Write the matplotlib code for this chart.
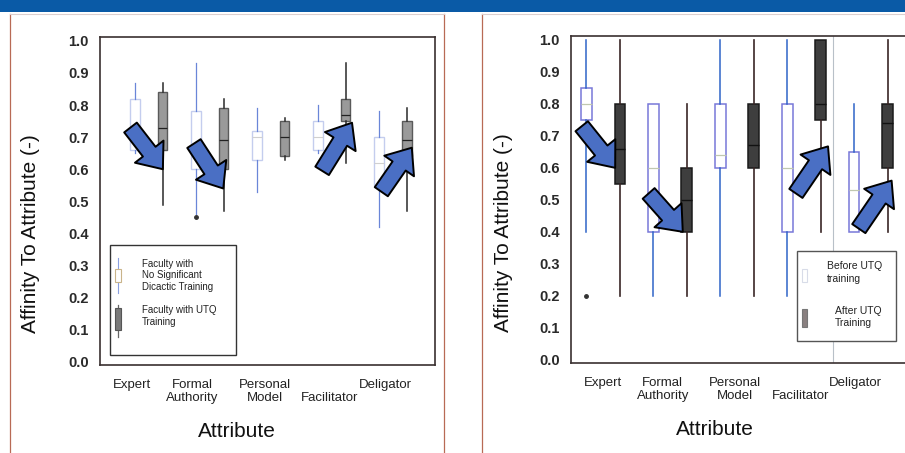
import matplotlib.pyplot as plt
from matplotlib.patches import Rectangle, FancyArrowPatch
from matplotlib.lines import Line2D
import numpy as np

plt.rcParams['font.family'] = ['Liberation Sans', 'DejaVu Sans']

categories = ["Expert", "Formal\nAuthority", "Personal\nModel", "\nFacilitator", "Deligator"]
yticks = [0.0, 0.1, 0.2, 0.3, 0.4, 0.5, 0.6, 0.7, 0.8, 0.9, 1.0]

# left panel: faculty without / with UTQ training (lo, q1, med, q3, hi)
left_plain_lo = [0.65, 0.46, 0.53, 0.65, 0.42]
left_plain_q1 = [0.66, 0.60, 0.63, 0.66, 0.55]
left_plain_med = [0.70, 0.68, 0.70, 0.70, 0.62]
left_plain_q3 = [0.82, 0.78, 0.72, 0.75, 0.70]
left_plain_hi = [0.87, 0.93, 0.79, 0.80, 0.78]
left_plain_fliers = [[], [0.45], [], [], []]

left_utq_lo = [0.49, 0.47, 0.63, 0.62, 0.47]
left_utq_q1 = [0.66, 0.60, 0.64, 0.75, 0.64]
left_utq_med = [0.73, 0.69, 0.70, 0.77, 0.69]
left_utq_q3 = [0.84, 0.79, 0.75, 0.82, 0.75]
left_utq_hi = [0.87, 0.82, 0.76, 0.93, 0.79]

# right panel: before / after UTQ training
right_before_lo = [0.40, 0.20, 0.20, 0.20, 0.40]
right_before_q1 = [0.75, 0.40, 0.60, 0.40, 0.40]
right_before_med = [0.80, 0.60, 0.64, 0.60, 0.53]
right_before_q3 = [0.85, 0.80, 0.80, 0.80, 0.65]
right_before_hi = [1.00, 0.80, 1.00, 1.00, 0.80]
right_before_fliers = [[0.20], [], [], [], []]

right_after_lo = [0.20, 0.20, 0.20, 0.40, 0.40]
right_after_q1 = [0.55, 0.40, 0.60, 0.75, 0.60]
right_after_med = [0.66, 0.50, 0.67, 0.80, 0.74]
right_after_q3 = [0.80, 0.60, 0.80, 1.00, 0.80]
right_after_hi = [1.00, 0.80, 1.00, 1.00, 1.00]

# arrows (tail x, tail y, tip x, tip y) in data units
left_arrows = [(0.70, 0.73, 1.23, 0.60), (1.74, 0.68, 2.22, 0.54),
               (3.84, 0.595, 4.33, 0.745), (4.81, 0.53, 5.31, 0.667)]
right_arrows = [(0.68, 0.73, 1.18, 0.60), (1.68, 0.52, 2.19, 0.40),
                (3.88, 0.52, 4.36, 0.667), (4.82, 0.41, 5.31, 0.56)]

ARROW_BLUE = '#4a6fc4'


def make_stats(lo, q1, med, q3, hi, fliers=None):
    out = []
    for i in range(len(lo)):
        out.append(dict(whislo=lo[i], q1=q1[i], med=med[i], q3=q3[i], whishi=hi[i],
                        fliers=fliers[i] if fliers else []))
    return out


def draw_arrows(ax, arrows):
    for x0, y0, x1, y1 in arrows:
        a = FancyArrowPatch((x0, y0), (x1, y1),
                            arrowstyle='simple,head_length=1.6,head_width=2.6,tail_width=1.15',
                            mutation_scale=10, facecolor=ARROW_BLUE, edgecolor='black',
                            linewidth=1.4, zorder=5, shrinkA=0, shrinkB=0)
        ax.add_patch(a)


def style_axes(ax, xlim, label_pos, ylab_x, xlab_x):
    ax.set_xlim(*xlim)
    ax.set_ylim(-0.01, 1.012)
    ax.set_yticks(yticks)
    ax.set_yticklabels([f"{v:.1f}" for v in yticks], fontsize=10.5, fontweight='bold', color='#2a2a2a')
    ax.set_xticks(label_pos)
    ax.set_xticklabels(categories, fontsize=9.5, color='#222', linespacing=1.15)
    for t in ax.get_xticklabels():
        t.set_verticalalignment('top')
    ax.tick_params(axis='both', length=0)
    ax.tick_params(axis='x', pad=10)
    ax.tick_params(axis='y', pad=8)
    ax.set_ylabel("Affinity To Attribute (-)", fontsize=15, color='#111')
    ax.yaxis.set_label_coords(ylab_x, 0.40)
    ax.set_xlabel("Attribute", fontsize=15, color='#111')
    ax.xaxis.set_label_coords(xlab_x, -0.175)
    for s in ax.spines.values():
        s.set_color('#3a3030')
        s.set_linewidth(1.2)


fig = plt.figure(figsize=(9.05, 4.53), dpi=100)

# header strip and panel frames
fig.add_artist(Rectangle((0, 0.9735), 1, 0.0265, transform=fig.transFigure,
                         facecolor='#0a5aa6', edgecolor='none'))
frame_c = '#b86a55'
fig.add_artist(Line2D([10 / 905, 10 / 905], [0, 439 / 453], transform=fig.transFigure, color=frame_c, lw=0.9))
fig.add_artist(Line2D([444 / 905, 444 / 905], [0, 439 / 453], transform=fig.transFigure, color=frame_c, lw=0.9))
fig.add_artist(Line2D([10 / 905, 444 / 905], [439 / 453, 439 / 453], transform=fig.transFigure, color='#dccfcf', lw=0.8))
fig.add_artist(Line2D([482 / 905, 482 / 905], [0, 439 / 453], transform=fig.transFigure, color=frame_c, lw=0.9))
fig.add_artist(Line2D([482 / 905, 1], [439 / 453, 439 / 453], transform=fig.transFigure, color='#dccfcf', lw=0.8))

# ---- left panel
axl = fig.add_axes([100 / 905, 88 / 453, 335 / 905, 328 / 453])
pos = np.arange(1, 6)
axl.bxp(make_stats(left_plain_lo, left_plain_q1, left_plain_med, left_plain_q3, left_plain_hi,
                   left_plain_fliers),
        positions=pos - 0.23, widths=0.17, patch_artist=True, showcaps=False,
        boxprops=dict(facecolor='white', edgecolor='#c4cdee', linewidth=1.0),
        whiskerprops=dict(color='#6a86d8', linewidth=0.9),
        medianprops=dict(color='#d0d0d0', linewidth=0.8),
        flierprops=dict(marker='o', markersize=2.5, markerfacecolor='#333', markeredgecolor='#333'))
axl.bxp(make_stats(left_utq_lo, left_utq_q1, left_utq_med, left_utq_q3, left_utq_hi),
        positions=pos + 0.23, widths=0.15, patch_artist=True, showcaps=False,
        boxprops=dict(facecolor='#9a9a9a', edgecolor='#5a5a5a', linewidth=1.0),
        whiskerprops=dict(color='#2a2a2a', linewidth=1.1),
        medianprops=dict(color='#222', linewidth=0.9))
style_axes(axl, (0.2, 5.69), pos + np.array([-0.28, -0.29, -0.1, -0.03, -0.13]), -0.18, 0.41)
draw_arrows(axl, left_arrows)

# left legend
axl.add_patch(Rectangle((0.03, 0.03), 0.376, 0.336, transform=axl.transAxes,
                        facecolor='white', edgecolor='#333', lw=1.0, zorder=4))
axl.plot([0.054, 0.054], [0.22, 0.326], transform=axl.transAxes, color='#8aa0e0', lw=0.8, zorder=5)
axl.add_patch(Rectangle((0.046, 0.253), 0.016, 0.04, transform=axl.transAxes,
                        facecolor='white', edgecolor='#c9b48a', lw=0.8, zorder=6))
axl.plot([0.054, 0.054], [0.085, 0.183], transform=axl.transAxes, color='#666', lw=0.9, zorder=5)
axl.add_patch(Rectangle((0.046, 0.107), 0.016, 0.067, transform=axl.transAxes,
                        facecolor='#7a7a7a', edgecolor='#555', lw=0.8, zorder=6))
axl.text(0.125, 0.274, "Faculty with\nNo Significant\nDicactic Training", transform=axl.transAxes,
         fontsize=7, va='center', ha='left', color='#222', linespacing=1.2, zorder=6)
axl.text(0.125, 0.149, "Faculty with UTQ\nTraining", transform=axl.transAxes,
         fontsize=7, va='center', ha='left', color='#222', linespacing=1.2, zorder=6)

# ---- right panel
axr = fig.add_axes([571 / 905, 90 / 453, 334 / 905, 327 / 453])
axr.axvline(4.43, color='#b8c0c8', lw=0.8, zorder=0)
axr.bxp(make_stats(right_before_lo, right_before_q1, right_before_med, right_before_q3, right_before_hi,
                   right_before_fliers),
        positions=pos - 0.25, widths=0.16, patch_artist=True, showcaps=False,
        boxprops=dict(facecolor='white', edgecolor='#7878d8', linewidth=1.1),
        whiskerprops=dict(color='#2f64c8', linewidth=1.1),
        medianprops=dict(color='#c0c8b0', linewidth=0.9),
        flierprops=dict(marker='o', markersize=2.5, markerfacecolor='#333', markeredgecolor='#333'))
axr.bxp(make_stats(right_after_lo, right_after_q1, right_after_med, right_after_q3, right_after_hi),
        positions=pos + 0.25, widths=0.16, patch_artist=True, showcaps=False,
        boxprops=dict(facecolor='#3e3e3e', edgecolor='#1a1a1a', linewidth=1.1),
        whiskerprops=dict(color='#3a2626', linewidth=1.2),
        medianprops=dict(color='#111', linewidth=1.0))
style_axes(axr, (0.52, 5.51), pos + np.array([0.0, -0.11, -0.03, -0.05, -0.23]), -0.174, 0.43)
axr.spines['right'].set_visible(False)
draw_arrows(axr, right_arrows)

# right legend
axr.add_patch(Rectangle((0.677, 0.067), 0.296, 0.277, transform=axr.transAxes,
                        facecolor='white', edgecolor='#555', lw=1.0, zorder=4))
axr.add_patch(Rectangle((0.693, 0.247), 0.015, 0.04, transform=axr.transAxes,
                        facecolor='white', edgecolor='#d8dce8', lw=0.8, zorder=6))
axr.add_patch(Rectangle((0.693, 0.11), 0.015, 0.055, transform=axr.transAxes,
                        facecolor='#8a8080', edgecolor='#777', lw=0.8, zorder=6))
axr.text(0.766, 0.277, "Before UTQ\ntraining", transform=axr.transAxes,
         fontsize=7.5, va='center', ha='left', color='#222', linespacing=1.3, zorder=6)
axr.text(0.79, 0.14, "After UTQ\nTraining", transform=axr.transAxes,
         fontsize=7.5, va='center', ha='left', color='#222', linespacing=1.3, zorder=6)

fig.savefig("out.png", dpi=100)
